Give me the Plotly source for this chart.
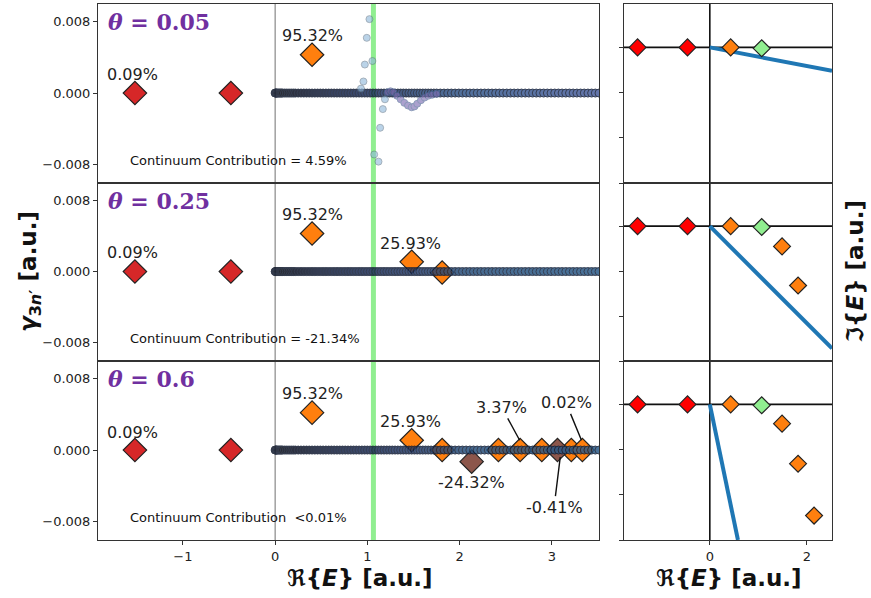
import plotly.graph_objects as go

# ---------------- data ----------------
thetas = ["0.05", "0.25", "0.6"]
cont_text = ["Continuum Contribution = 4.59%",
             "Continuum Contribution = -21.34%",
             "Continuum Contribution\u00a0\u00a0<0.01%"]

# bound states (left / right panels)
bound_re_left = [-1.52, -0.48]
bound_g_left = [0.0, 0.0]
bound_re_right = [-1.49, -0.46]
bound_im_right = [0.0, 0.0]

# left panels: orange (resonance-like) states
orange_re = [[0.40], [0.40, 1.48, 1.81], [0.40, 1.48, 1.81, 2.42, 2.655, 2.89, 3.21, 3.33]]
orange_g = [[0.0043], [0.0043, 0.0011, -0.0001], [0.0042, 0.0011, 0.0, 0.0, 0.0, 0.0, 0.0, 0.0]]
brown_re = [[], [], [2.13, 3.06]]
brown_g = [[], [], [-0.0013, 0.0]]

# discretised continuum (Re E), same in all panels
cont_re = [0.0, 0.005, 0.01, 0.015, 0.02, 0.03, 0.04, 0.05, 0.06, 0.07, 0.08, 0.10, 0.12,
           0.14, 0.16, 0.18, 0.20, 0.22, 0.25, 0.28, 0.31, 0.34, 0.37, 0.40, 0.43, 0.46,
           0.49, 0.52, 0.55, 0.58, 0.61, 0.64, 0.67, 0.70, 0.73, 0.76, 0.79, 0.82, 0.85,
           0.88, 0.91, 0.94, 0.97, 1.00, 1.03, 1.06, 1.09, 1.12, 1.15, 1.18, 1.21, 1.24,
           1.27, 1.30, 1.33, 1.36, 1.39, 1.42, 1.45, 1.48, 1.51, 1.54, 1.57, 1.60, 1.63,
           1.66, 1.69, 1.72, 1.75, 1.79, 1.83, 1.87, 1.91, 1.95, 1.99, 2.03, 2.07, 2.11,
           2.15, 2.19, 2.23, 2.27, 2.31, 2.35, 2.39, 2.43, 2.47, 2.51, 2.55, 2.59, 2.63,
           2.67, 2.71, 2.75, 2.79, 2.83, 2.87, 2.91, 2.95, 2.99, 3.03, 3.07, 3.11, 3.15,
           3.19, 3.23, 3.27, 3.31, 3.35, 3.39, 3.43, 3.47, 3.51]
cont_g = [0.0] * len(cont_re)

# top panel: continuum states deviating near the resonance
dev_re = [0.93, 0.957, 0.972, 0.993, 1.022, 1.054, 1.073, 1.12, 1.138, 1.167, 1.19]
dev_g = [0.0005, 0.0013, 0.0032, 0.0062, 0.0083, 0.0036, -0.0069, -0.0077, -0.0039, -0.0018, -0.0007]
dip_re = [1.22, 1.25, 1.28, 1.32, 1.36, 1.40, 1.44, 1.48, 1.51, 1.54, 1.58, 1.62, 1.66, 1.70, 1.75]
dip_g = [0.0001, 0.0002, 0.0001, -0.0003, -0.0007, -0.0011, -0.0014, -0.0016, -0.0015,
         -0.0012, -0.0008, -0.0005, -0.0003, -0.0002, -0.0001]

resonance_re = 1.065

# labels (left panels)
lab_text = [["0.09%", "95.32%"],
            ["0.09%", "95.32%", "25.93%"],
            ["0.09%", "95.32%", "25.93%", "-24.32%"]]
lab_re = [[-1.55, 0.40], [-1.55, 0.40, 1.47], [-1.55, 0.40, 1.47, 2.13]]
lab_g = [[0.0021, 0.0065], [0.0022, 0.0064, 0.0032], [0.0020, 0.0064, 0.0032, -0.0036]]

# leader-line labels (bottom panel)
arrow_text = ["3.37%", "0.02%", "-0.41%"]
arrow_text_re = [2.456, 3.153, 3.023]
arrow_text_g = [0.0048, 0.0053, -0.0064]
arrow_tip_re = [2.65, 3.32, 3.09]
arrow_tip_g = [0.0011, 0.0011, -0.0008]

# right panels: complex eigenvalues
rot_end_re = [2.52, 2.52, 0.58]
rot_end_im = [-0.26, -1.36, -1.50]
r_orange_re = [[0.43], [0.43, 1.49, 1.82], [0.43, 1.49, 1.82, 2.15]]
r_orange_im = [[0.0], [0.0, -0.225, -0.66], [0.0, -0.213, -0.656, -1.23]]
r_green_re = [1.07]
r_green_im = [-0.01]

# ---------------- layout geometry ----------------
W, H = 871, 598


def px(v):
    return v / W


def py(v):
    return 1 - v / H


LX = [px(98), px(599)]
RX = [px(624), px(832)]
ypix = [(4, 183), (183, 361), (361, 540)]
YD = [[py(b), py(t)] for t, b in ypix]

fig = go.Figure()

FONT = "DejaVu Sans"
frame = dict(showline=True, mirror=True, linecolor="#333", linewidth=1,
             showgrid=False, zeroline=False)
cont_scales = [
    [[0, "#000000"], [0.06, "#080c1c"], [0.15, "#121d3c"], [0.3, "#1c2f5e"],
     [0.45, "#284677"], [0.6, "#33588c"], [1, "#485d9c"]],
    [[0, "#000000"], [0.06, "#080c1c"], [0.15, "#121d3a"], [0.3, "#1b2c56"],
     [0.45, "#243c6a"], [0.6, "#27507c"], [1, "#2a5a88"]],
    [[0, "#000000"], [0.06, "#080c1c"], [0.15, "#121d3a"], [0.3, "#1b2c56"],
     [0.45, "#243c6a"], [0.6, "#27507c"], [1, "#2a5a88"]],
]

for k in range(3):
    xl = "x" if k == 0 else f"x{k+1}"
    yl = "y" if k == 0 else f"y{k+1}"
    xr = f"x{k+4}"
    yr = f"y{k+4}"

    # ----- left panel -----
    fig.add_trace(go.Scatter(x=bound_re_left, y=bound_g_left, mode="markers", xaxis=xl, yaxis=yl,
                             marker=dict(symbol="diamond", size=18, color="#d62728",
                                         line=dict(color="#222", width=1.2)), showlegend=False))
    fig.add_trace(go.Scatter(x=orange_re[k], y=orange_g[k], mode="markers", xaxis=xl, yaxis=yl,
                             marker=dict(symbol="diamond", size=18, color="#ff7f0e",
                                         line=dict(color="#222", width=1.2)), showlegend=False))
    if brown_re[k]:
        fig.add_trace(go.Scatter(x=brown_re[k], y=brown_g[k], mode="markers", xaxis=xl, yaxis=yl,
                                 marker=dict(symbol="diamond", size=18, color="#8c564b",
                                             line=dict(color="#222", width=1.2)), showlegend=False))
    fig.add_trace(go.Scatter(x=cont_re, y=cont_g, mode="markers", xaxis=xl, yaxis=yl,
                             opacity=0.85,
                             marker=dict(symbol="circle", size=8, color=cont_re, cmin=0, cmax=3.5,
                                         colorscale=cont_scales[k],
                                         line=dict(color="#131d33", width=1)),
                             showlegend=False))
    if k == 0:
        fig.add_trace(go.Scatter(x=dev_re, y=dev_g, mode="markers", xaxis=xl, yaxis=yl,
                                 opacity=0.6,
                                 marker=dict(symbol="circle", size=7, color="#8db6da",
                                             line=dict(color="#56687a", width=0.8)),
                                 showlegend=False))
        fig.add_trace(go.Scatter(x=dip_re, y=dip_g, mode="markers", xaxis=xl, yaxis=yl,
                                 opacity=0.65,
                                 marker=dict(symbol="circle", size=7, color="#7f70b4",
                                             line=dict(color="#3f5f8a", width=0.8)),
                                 showlegend=False))

    for t, xv, yv in zip(lab_text[k], lab_re[k], lab_g[k]):
        fig.add_annotation(x=xv, y=yv, xref=xl, yref=yl, text=t, showarrow=False,
                           xanchor="center", yanchor="middle",
                           font=dict(family=FONT, size=16, color="#222"))
    fig.add_annotation(x=-1.59, y=-0.0076, xref=xl, yref=yl, text=cont_text[k],
                       showarrow=False, xanchor="left", yanchor="middle",
                       font=dict(family=FONT, size=13, color="#111"))
    fig.add_annotation(x=-1.83, y=0.008, xref=xl, yref=yl,
                       text=f"<b><i>θ</i> = {thetas[k]}</b>", showarrow=False,
                       xanchor="left", yanchor="middle",
                       font=dict(family="DejaVu Serif", size=22, color="#7030a0"))

    # zero line in left panel
    fig.add_shape(type="line", xref=xl, yref=f"{yl} domain", x0=0, x1=0, y0=0, y1=1,
                  line=dict(color="#888", width=1.2), layer="below")

    # ----- right panel -----
    fig.add_shape(type="line", xref=xr, yref=f"{yr} domain", x0=0, x1=0, y0=0, y1=1,
                  line=dict(color="#111", width=1.6), layer="below")
    fig.add_shape(type="line", xref=f"{xr} domain", yref=yr, x0=0, x1=1, y0=0, y1=0,
                  line=dict(color="#111", width=1.6), layer="below")
    fig.add_trace(go.Scatter(x=[0, rot_end_re[k]], y=[0, rot_end_im[k]], mode="lines",
                             xaxis=xr, yaxis=yr, line=dict(color="#1f77b4", width=4),
                             showlegend=False))
    fig.add_trace(go.Scatter(x=bound_re_right, y=bound_im_right, mode="markers", xaxis=xr, yaxis=yr,
                             marker=dict(symbol="diamond", size=13, color="#ff0000",
                                         line=dict(color="#222", width=1.2)), showlegend=False))
    fig.add_trace(go.Scatter(x=r_orange_re[k], y=r_orange_im[k], mode="markers", xaxis=xr, yaxis=yr,
                             marker=dict(symbol="diamond", size=13, color="#ff7f0e",
                                         line=dict(color="#222", width=1.2)), showlegend=False))
    fig.add_trace(go.Scatter(x=r_green_re, y=r_green_im, mode="markers", xaxis=xr, yaxis=yr,
                             marker=dict(symbol="diamond", size=13, color="#90ee90",
                                         line=dict(color="#222", width=1.2)), showlegend=False))

    bottom = (k == 2)
    xname_l = "xaxis" if k == 0 else f"xaxis{k+1}"
    yname_l = "yaxis" if k == 0 else f"yaxis{k+1}"
    fig.layout[xname_l] = dict(domain=LX, anchor=yl, range=[-1.92, 3.51], **frame,
                               ticks="outside" if bottom else "", ticklen=4, tickcolor="#333",
                               tickvals=[-1, 0, 1, 2, 3], ticktext=["−1", "0", "1", "2", "3"],
                               showticklabels=bottom,
                               tickfont=dict(family=FONT, size=13, color="#222"))
    fig.layout[yname_l] = dict(domain=YD[k], anchor=xl, range=[-0.0101, 0.0100], **frame,
                               ticks="outside", ticklen=4, tickcolor="#333",
                               tickvals=[-0.008, 0.0, 0.008],
                               ticktext=["−0.008", "0.000", "0.008"],
                               tickfont=dict(family=FONT, size=13, color="#222"))
    fig.layout[f"xaxis{k+4}"] = dict(domain=RX, anchor=yr, range=[-1.77, 2.52], **frame,
                                     ticks="outside" if bottom else "", ticklen=4, tickcolor="#333",
                                     tickvals=[0, 2], ticktext=["0", "2"], showticklabels=bottom,
                                     tickfont=dict(family=FONT, size=13, color="#222"))
    fig.layout[f"yaxis{k+4}"] = dict(domain=YD[k], anchor=xr, range=[-1.5, 0.48], **frame,
                                     ticks="outside", ticklen=4, tickcolor="#333",
                                     tickvals=[-1.5, -1.0, -0.5, 0.0], showticklabels=False)

# leader-line annotations (bottom-left)
for t, tx, ty, ax_, ay_ in zip(arrow_text, arrow_text_re, arrow_text_g, arrow_tip_re, arrow_tip_g):
    fig.add_annotation(x=ax_, y=ay_, ax=tx, ay=ty, xref="x3", yref="y3", axref="x3", ayref="y3",
                       text=t, showarrow=True, arrowhead=0, arrowwidth=1.4, arrowcolor="#111",
                       font=dict(family=FONT, size=16, color="#222"))

# resonance energy line across left panels
fig.add_shape(type="line", xref="x3", yref="paper", x0=resonance_re, x1=resonance_re,
              y0=YD[2][0], y1=YD[0][1], line=dict(color="#90ee90", width=5), layer="below")

# axis titles
title_font = dict(family=FONT, size=23, color="#111")
fig.add_annotation(xref="paper", yref="paper", x=px(360), y=py(578), xanchor="center",
                   yanchor="middle", text="<b>ℜ{<i>E</i>} [a.u.]</b>", showarrow=False,
                   font=title_font)
fig.add_annotation(xref="paper", yref="paper", x=px(729), y=py(578), xanchor="center",
                   yanchor="middle", text="<b>ℜ{<i>E</i>} [a.u.]</b>", showarrow=False,
                   font=title_font)
fig.add_annotation(xref="paper", yref="paper", x=px(30), y=py(272), textangle=-90,
                   xanchor="center", yanchor="middle",
                   text="<b><i>γ</i><sub>3<i>n</i>′</sub> [a.u.]</b>", showarrow=False,
                   font=title_font)
fig.add_annotation(xref="paper", yref="paper", x=px(855), y=py(272), textangle=-90,
                   xanchor="center", yanchor="middle",
                   text="<b>ℑ{<i>E</i>} [a.u.]</b>", showarrow=False,
                   font=title_font)

fig.update_layout(width=W, height=H, margin=dict(l=0, r=0, t=0, b=0),
                  plot_bgcolor="white", paper_bgcolor="white", showlegend=False)

fig.write_html("out.html", config={"displayModeBar": False},
               post_script="document.body.style.margin='0px';")
